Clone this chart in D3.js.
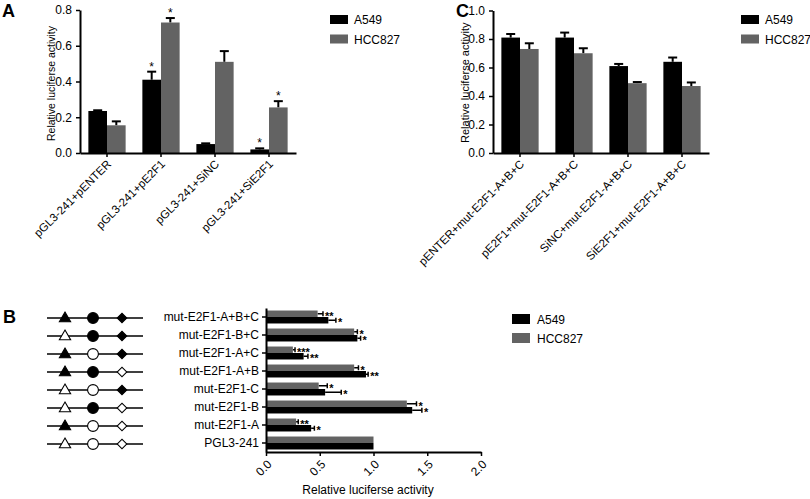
<!DOCTYPE html>
<html><head><meta charset="utf-8">
<script src="https://cdn.jsdelivr.net/npm/d3@7"></script>
<style>body{margin:0;background:#fff}svg{display:block;font-family:"Liberation Sans",Arial,sans-serif}</style>
</head><body><svg id="c" width="810" height="499"></svg>
<script>
// ---------- DATA ----------
const seriesNames = ["A549", "HCC827"];
// Panel A
const catsA = ["pGL3-241+pENTER", "pGL3-241+pE2F1", "pGL3-241+SiNC", "pGL3-241+SiE2F1"];
const a549A = [0.235, 0.41, 0.05, 0.02];
const a549AErr = [0.004, 0.045, 0.004, 0.006];
const hccA = [0.155, 0.73, 0.51, 0.255];
const hccAErr = [0.022, 0.025, 0.06, 0.035];
const a549AStars = ["", "*", "", "*"];
const hccAStars = ["", "*", "", "*"];
const ticksA = [0, 0.2, 0.4, 0.6, 0.8];
// Panel C
const catsC = ["pENTER+mut-E2F1-A+B+C", "pE2F1+mut-E2F1-A+B+C", "SiNC+mut-E2F1-A+B+C", "SiE2F1+mut-E2F1-A+B+C"];
const a549C = [0.81, 0.81, 0.61, 0.64];
const a549CErr = [0.025, 0.035, 0.015, 0.03];
const hccC = [0.73, 0.70, 0.49, 0.47];
const hccCErr = [0.04, 0.035, 0.008, 0.025];
const ticksC = [0, 0.2, 0.4, 0.6, 0.8, 1.0];
// Panel B
const catsB = ["mut-E2F1-A+B+C", "mut-E2F1-B+C", "mut-E2F1-A+C", "mut-E2F1-A+B", "mut-E2F1-C", "mut-E2F1-B", "mut-E2F1-A", "PGL3-241"];
const a549B = [0.58, 0.85, 0.35, 0.93, 0.55, 1.36, 0.42, 1.0];
const a549BErr = [0.07, 0.03, 0.04, 0.02, 0.15, 0.09, 0.03, 0];
const hccB = [0.48, 0.82, 0.25, 0.82, 0.49, 1.31, 0.28, 1.0];
const hccBErr = [0.05, 0.03, 0.02, 0.04, 0.08, 0.09, 0.02, 0];
const a549BStars = ["*", "*", "**", "**", "*", "*", "*", ""];
const hccBStars = ["**", "*", "***", "*", "*", "*", "**", ""];
const ticksB = [0, 0.5, 1.0, 1.5, 2.0];
// schematic: site A (triangle), B (circle), C (diamond) mutated = filled
const mutA = [1, 0, 1, 1, 0, 0, 1, 0];
const mutB = [1, 1, 0, 1, 0, 1, 0, 0];
const mutC = [1, 1, 1, 0, 1, 0, 0, 0];

const BLACK = "#000", GRAY = "#636363";
const svg = d3.select("#c");
const FS = "12px";

function vertPanel(opts) {
  const g = svg.append("g");
  const x = d3.scaleBand().domain(opts.cats).range([opts.x0, opts.x1]).paddingInner(0.31).paddingOuter(0.155);
  const xs = d3.scaleBand().domain(seriesNames).range([0, x.bandwidth()]);
  const y = d3.scaleLinear().domain([0, opts.ymax]).range([opts.yb, opts.yt]);
  const rows = opts.cats.map((c, i) => ({c, i}));
  const series = [
    {name: "A549", vals: opts.a, errs: opts.ae, stars: opts.as, col: BLACK},
    {name: "HCC827", vals: opts.h, errs: opts.he, stars: opts.hs, col: GRAY}
  ];
  series.forEach(s => {
    const gx = d => x(d.c) + xs(s.name);
    const w = xs.bandwidth();
    g.selectAll(null).data(rows).enter().append("line")
      .attr("x1", d => gx(d) + w/2).attr("x2", d => gx(d) + w/2)
      .attr("y1", d => y(s.vals[d.i])).attr("y2", d => y(s.vals[d.i] + s.errs[d.i]))
      .attr("stroke", "#000").attr("stroke-width", 2);
    g.selectAll(null).data(rows).enter().append("line")
      .attr("x1", d => gx(d) + w/2 - 4.5).attr("x2", d => gx(d) + w/2 + 4.5)
      .attr("y1", d => y(s.vals[d.i] + s.errs[d.i])).attr("y2", d => y(s.vals[d.i] + s.errs[d.i]))
      .attr("stroke", "#000").attr("stroke-width", 2);
    g.selectAll(null).data(rows).enter().append("rect")
      .attr("x", d => gx(d)).attr("width", w)
      .attr("y", d => y(s.vals[d.i])).attr("height", d => opts.yb - y(s.vals[d.i]))
      .attr("fill", s.col);
    if (s.stars) {
      g.selectAll(null).data(rows.filter(d => s.stars[d.i])).enter().append("text")
        .attr("x", d => gx(d) + w/2).attr("y", d => y(s.vals[d.i] + s.errs[d.i]) - 1)
        .attr("text-anchor", "middle").attr("font-size", "12px").text(d => s.stars[d.i]);
    }
  });
  const ya = g.append("g").attr("transform", `translate(${opts.x0},0)`)
    .call(d3.axisLeft(y).tickValues(opts.ticks).tickFormat(d3.format(".1f")).tickSize(4).tickSizeOuter(0));
  ya.select(".domain").attr("stroke-width", 2);
  ya.selectAll(".tick line").attr("stroke-width", 1.5);
  ya.selectAll("text").attr("font-size", FS).attr("font-family", "Liberation Sans, Arial").attr("fill", "#000").attr("dx", "-1");
  const xa = g.append("g").attr("transform", `translate(0,${opts.yb})`)
    .call(d3.axisBottom(x).tickSize(4).tickSizeOuter(0));
  xa.select(".domain").attr("stroke-width", 2);
  xa.selectAll(".tick line").attr("stroke-width", 1.5);
  xa.selectAll("text").attr("font-size", "11.5px").attr("font-family", "Liberation Sans, Arial").attr("fill", "#000")
    .attr("text-anchor", "end").attr("x", 0).attr("y", 0).attr("dy", "0.35em")
    .attr("transform", "translate(2,9) rotate(-45)");
  g.append("text").attr("transform", `translate(${opts.titleX},${(opts.yb + opts.yt)/2 + opts.titleDy}) rotate(-90)`)
    .attr("text-anchor", "middle").attr("font-size", opts.titleFs).text("Relative luciferse activity");
  g.append("text").attr("x", opts.labX).attr("y", 17).attr("font-size", "18px").attr("font-weight", "bold").text(opts.label);
  const lg = g.append("g");
  series.forEach((s, i) => {
    lg.append("rect").attr("x", opts.legX).attr("y", 15 + i*19.5).attr("width", 18).attr("height", 9).attr("fill", s.col);
    lg.append("text").attr("x", opts.legX + 24).attr("y", 24 + i*19.5).attr("font-size", FS).text(s.name);
  });
}

vertPanel({cats: catsA, a: a549A, ae: a549AErr, h: hccA, he: hccAErr, as: a549AStars, hs: hccAStars,
  x0: 80, x1: 296, yb: 153, yt: 10, ymax: 0.8, ticks: ticksA, titleX: 55, titleDy: 2, titleFs: "10.5px", labX: 2, label: "A", legX: 330});
vertPanel({cats: catsC, a: a549C, ae: a549CErr, h: hccC, he: hccCErr, as: null, hs: null,
  x0: 493, x1: 709, yb: 153, yt: 10.5, ymax: 1.0, ticks: ticksC, titleX: 469, titleDy: 1, titleFs: "11px", labX: 456, label: "C", legX: 741});

// ---------- Panel B ----------
{
  const g = svg.append("g");
  const x = d3.scaleLinear().domain([0, 2]).range([266, 481]);
  const y = d3.scaleBand().domain(catsB).range([308, 452]).paddingInner(0.28).paddingOuter(0.14);
  const ys = d3.scaleBand().domain(["HCC827", "A549"]).range([0, y.bandwidth()]);
  const rows = catsB.map((c, i) => ({c, i}));
  const series = [
    {name: "HCC827", vals: hccB, errs: hccBErr, stars: hccBStars, col: GRAY},
    {name: "A549", vals: a549B, errs: a549BErr, stars: a549BStars, col: BLACK}
  ];
  series.forEach(s => {
    const h = ys.bandwidth();
    const yc = d => y(d.c) + ys(s.name) + h/2;
    const er = rows.filter(d => s.errs[d.i] > 0);
    g.selectAll(null).data(er).enter().append("line")
      .attr("x1", d => x(s.vals[d.i])).attr("x2", d => x(s.vals[d.i] + s.errs[d.i]))
      .attr("y1", yc).attr("y2", yc).attr("stroke", "#000").attr("stroke-width", 1.5);
    g.selectAll(null).data(er).enter().append("line")
      .attr("x1", d => x(s.vals[d.i] + s.errs[d.i])).attr("x2", d => x(s.vals[d.i] + s.errs[d.i]))
      .attr("y1", d => yc(d) - 2.5).attr("y2", d => yc(d) + 2.5).attr("stroke", "#000").attr("stroke-width", 1.5);
    g.selectAll(null).data(rows).enter().append("rect")
      .attr("x", x(0)).attr("y", d => y(d.c) + ys(s.name)).attr("height", h)
      .attr("width", d => x(s.vals[d.i]) - x(0)).attr("fill", s.col);
    g.selectAll(null).data(rows.filter(d => s.stars[d.i])).enter().append("text")
      .attr("x", d => x(s.vals[d.i] + s.errs[d.i]) + 2).attr("y", d => yc(d) + 6)
      .attr("font-size", "11px").attr("font-weight", "bold").text(d => s.stars[d.i]);
  });
  const ya = g.append("g").attr("transform", "translate(266,0)")
    .call(d3.axisLeft(y).tickSize(4).tickSizeOuter(0));
  ya.select(".domain").attr("stroke-width", 2);
  ya.selectAll(".tick line").attr("stroke-width", 1.5);
  ya.selectAll("text").attr("font-size", FS).attr("font-family", "Liberation Sans, Arial").attr("fill", "#000");
  const xa = g.append("g").attr("transform", "translate(0,452)")
    .call(d3.axisBottom(x).tickValues(ticksB).tickFormat(d3.format(".1f")).tickSize(4).tickSizeOuter(0));
  xa.select(".domain").attr("stroke-width", 2);
  xa.selectAll(".tick line").attr("stroke-width", 1.5);
  xa.selectAll("text").attr("font-size", FS).attr("font-family", "Liberation Sans, Arial").attr("fill", "#000")
    .attr("text-anchor", "end").attr("x", 0).attr("y", 0).attr("dy", "0.35em").attr("transform", "translate(3,10) rotate(-45)");
  g.append("text").attr("x", 368).attr("y", 494).attr("text-anchor", "middle").attr("font-size", FS).text("Relative luciferse activity");
  g.append("text").attr("x", 3).attr("y", 323).attr("font-size", "18px").attr("font-weight", "bold").text("B");
  ["A549", "HCC827"].forEach((n, i) => {
    g.append("rect").attr("x", 512).attr("y", 314 + i*19).attr("width", 18).attr("height", 10).attr("fill", n === "A549" ? BLACK : GRAY);
    g.append("text").attr("x", 537).attr("y", 323.5 + i*19).attr("font-size", FS).text(n);
  });
  // schematic
  const sg = g.append("g");
  const cy = d => y(d.c) + y.bandwidth()/2 + 1;
  sg.selectAll(null).data(rows).enter().append("line")
    .attr("x1", 47).attr("x2", 143).attr("y1", cy).attr("y2", cy).attr("stroke", "#000").attr("stroke-width", 1.3);
  const sym = [
    {type: d3.symbolTriangle, size: 55, xp: 65, arr: mutA, rot: 0, dy: 0.5},
    {type: d3.symbolCircle, size: 92, xp: 93, arr: mutB, rot: 0, dy: 0},
    {type: d3.symbolSquare, size: 46, xp: 122, arr: mutC, rot: 45, dy: 0}
  ];
  sym.forEach(s => {
    sg.selectAll(null).data(rows).enter().append("path")
      .attr("d", d3.symbol().type(s.type).size(s.size))
      .attr("transform", d => `translate(${s.xp},${cy(d) + s.dy}) rotate(${s.rot})`)
      .attr("fill", d => s.arr[d.i] ? "#000" : "#fff").attr("stroke", "#000").attr("stroke-width", 1.1);
  });
}
</script></body></html>
